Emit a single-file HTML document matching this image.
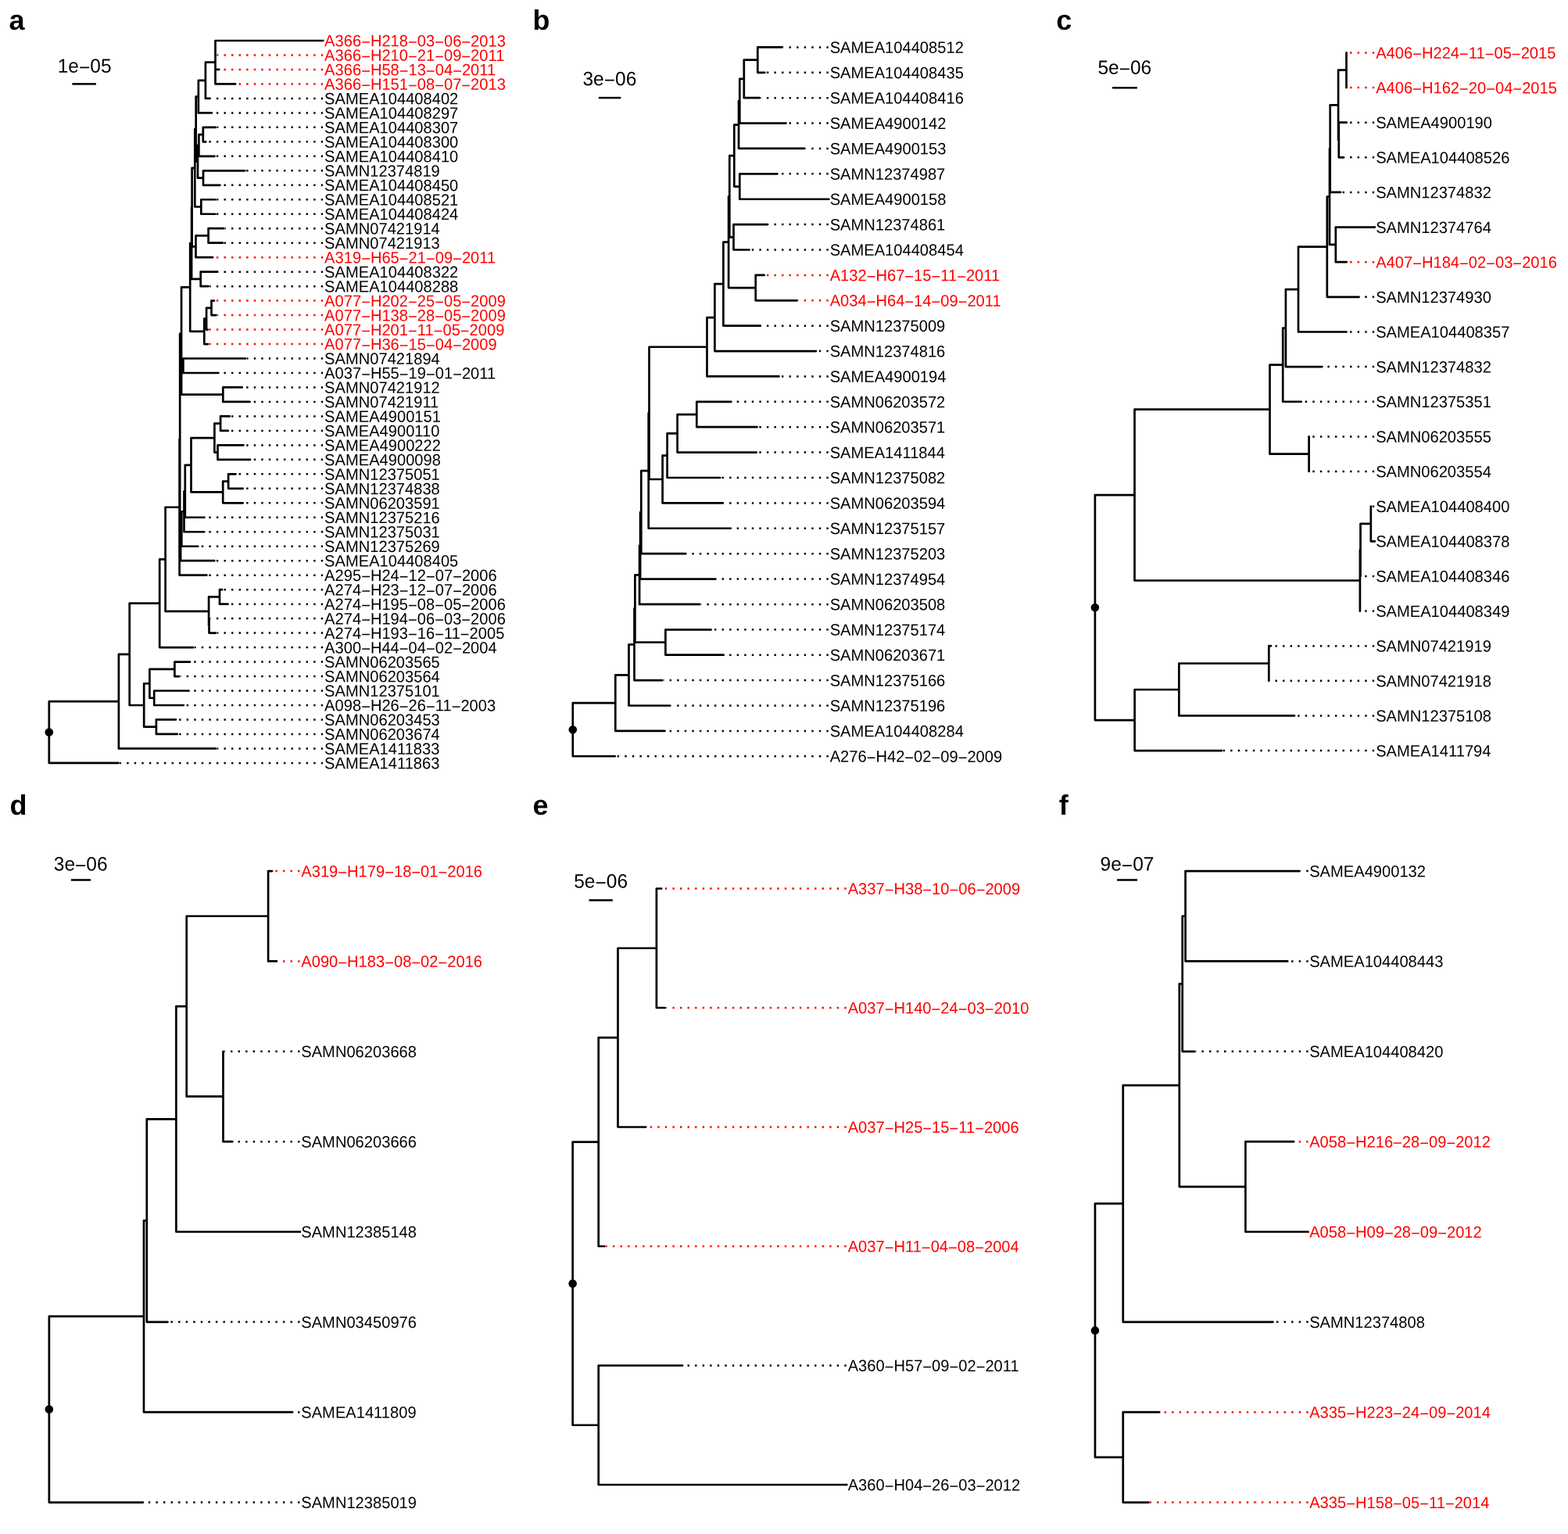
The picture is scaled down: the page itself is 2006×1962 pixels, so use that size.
<!DOCTYPE html>
<html lang="en">
<head>
<meta charset="utf-8">
<title>Phylogenetic trees a–f</title>
<style>
html,body{margin:0;padding:0;background:#fff;}
svg{display:block;}
text{font-family:"Liberation Sans",sans-serif;text-rendering:geometricPrecision;}
.t{font-size:20.14px;}
.s{font-size:24.5px;text-anchor:middle;}
.l{font-size:36px;font-weight:bold;}
.b{fill:none;stroke:#000;stroke-width:2.7;stroke-linecap:round;stroke-linejoin:round;}
.d{fill:none;stroke:#000;stroke-width:2.5;stroke-dasharray:2.39 7.17;}
.dr{fill:none;stroke:#f00;stroke-width:2.5;stroke-dasharray:2.39 7.17;}
.k{stroke:#000;stroke-width:2.5;}
.r{fill:#f00;}
</style>
</head>
<body>
<svg width="2006" height="1962" viewBox="0 0 2006 1962">
<rect width="2006" height="1962" fill="#fff"/>
<g id="panel-a">
<text class="l" transform="matrix(1 0.0005 0 1.0 11.4 38)">a</text>
<text class="s" transform="matrix(1 0.0005 0 1.022 108.15 92.75)">1e<tspan dy="1.92">−</tspan><tspan dy="-1.92">05</tspan></text>
<path class="k" d="M92.3 107.4H122.85"/>
<path class="b" d="M275.5 52V107.43M275.5 52H413.16M275.5 70.48H275.9M275.5 88.96H280.2M275.5 107.43H301.1M262.9 79.72V125.91M262.9 79.72H275.5M262.9 125.91H268.6M253.85 102.81V144.39M253.85 102.81H262.9M253.85 144.39H270.9M259.8 162.87V181.35M259.8 162.87H276M259.8 181.35H263.3M254.4 172.11V199.82M254.4 172.11H259.8M254.4 199.82H274.6M260 218.3V236.78M260 218.3H313.2M260 236.78H281.4M253 185.97V227.54M253 185.97H254.4M253 227.54H260M250.7 123.6V206.75M250.7 123.6H253.85M250.7 206.75H253M257.3 255.26V273.74M257.3 255.26H275.4M257.3 273.74H275.4M249.3 165.18V264.5M249.3 165.18H250.7M249.3 264.5H257.3M266.6 292.21V310.69M266.6 292.21H286.3M266.6 310.69H285.1M250.5 301.45V329.17M250.5 301.45H266.6M250.5 329.17H272.1M245.6 214.84V315.31M245.6 214.84H249.3M245.6 315.31H250.5M256.7 347.65V366.13M256.7 347.65H278.3M256.7 366.13H266.6M245.1 265.07V356.89M245.1 265.07H245.6M245.1 356.89H256.7M270.5 384.6V403.08M270.5 384.6H274M270.5 403.08H276.5M264.1 393.84V421.56M264.1 393.84H270.5M264.1 421.56H265.6M261.3 407.7V440.04M261.3 407.7H264.1M261.3 440.04H266M243.2 310.98V423.87M243.2 310.98H245.1M243.2 423.87H261.3M234.4 458.52V476.99M234.4 458.52H314.1M234.4 476.99H279.5M285.3 495.47V513.95M285.3 495.47H309.7M285.3 513.95H319.6M232.1 467.75V504.71M232.1 467.75H234.4M232.1 504.71H285.3M232.06 367.43V486.23M232.06 367.43H243.2M232.06 486.23H232.1M282.1 532.43V550.91M282.1 532.43H293.8M282.1 550.91H291.8M278.5 569.38V587.86M278.5 569.38H311.4M278.5 587.86H320.1M274.4 541.67V578.62M274.4 541.67H282.1M274.4 578.62H278.5M292.1 606.34V624.82M292.1 606.34H301.6M292.1 624.82H310.8M285.2 615.58V643.3M285.2 615.58H292.1M285.2 643.3H310.8M244.5 560.15V629.44M244.5 560.15H274.4M244.5 629.44H285.2M236.8 594.79V661.77M236.8 594.79H244.5M236.8 661.77H261.5M235.5 628.28V680.25M235.5 628.28H236.8M235.5 680.25H261.3M232.3 654.27V698.73M232.3 654.27H235.5M232.3 698.73H253.3M231.1 676.5V717.21M231.1 676.5H232.3M231.1 717.21H274.3M230.2 426.83V696.85M230.2 426.83H232.06M230.2 696.85H231.1M229.6 561.84V735.69M229.6 561.84H230.2M229.6 735.69H264.4M281 754.16V772.64M281 754.16H284M281 772.64H291.5M267.5 791.12V809.6M267.5 791.12H267.6M267.5 809.6H276.1M267.1 763.4V800.36M267.1 763.4H281M267.1 800.36H267.5M211.6 648.76V781.88M211.6 648.76H229.6M211.6 781.88H267.1M204.2 715.32V828.08M204.2 715.32H211.6M204.2 828.08H247.1M223.4 846.55V865.03M223.4 846.55H243M223.4 865.03H229.2M197.2 883.51V901.99M197.2 883.51H241.6M197.2 901.99H234.8M191.4 855.79V892.75M191.4 855.79H223.4M191.4 892.75H197.2M199.9 920.47V938.94M199.9 920.47H224.9M199.9 938.94H226.8M184.2 874.27V929.71M184.2 874.27H191.4M184.2 929.71H199.9M165.7 771.7V901.99M165.7 771.7H204.2M165.7 901.99H184.2M151.9 836.84V957.42M151.9 836.84H165.7M151.9 957.42H276.1M62.8 897.13V975.9M62.8 897.13H151.9M62.8 975.9H151.6"/>
<path class="d" d="M413.16 125.91H270.35M413.16 144.39H272.65M413.16 162.87H277.75M413.16 181.35H265.05M413.16 199.82H276.35M413.16 218.3H314.95M413.16 236.78H283.15M413.16 255.26H277.15M413.16 273.74H277.15M413.16 292.21H288.05M413.16 310.69H286.85M413.16 347.65H280.05M413.16 366.13H268.35M413.16 458.52H315.85M413.16 476.99H281.25M413.16 495.47H311.45M413.16 513.95H321.35M413.16 532.43H295.55M413.16 550.91H293.55M413.16 569.38H313.15M413.16 587.86H321.85M413.16 606.34H303.35M413.16 624.82H312.55M413.16 643.3H312.55M413.16 661.77H263.25M413.16 680.25H263.05M413.16 698.73H255.05M413.16 717.21H276.05M413.16 735.69H266.15M413.16 754.16H285.75M413.16 772.64H293.25M413.16 791.12H269.35M413.16 809.6H277.85M413.16 828.08H248.85M413.16 846.55H244.75M413.16 865.03H230.95M413.16 883.51H243.35M413.16 901.99H236.55M413.16 920.47H226.65M413.16 938.94H228.55M413.16 957.42H277.85M413.16 975.9H153.35"/>
<path class="dr" d="M413.16 52H414.91M413.16 70.48H277.65M413.16 88.96H281.95M413.16 107.43H302.85M413.16 329.17H273.85M413.16 384.6H275.75M413.16 403.08H278.25M413.16 421.56H267.35M413.16 440.04H267.75"/>
<circle cx="62.8" cy="936.52" r="5.3"/>
<g class="t">
<text class="r" transform="matrix(1 0.0005 0 1.03 415.11 59.3)">A366<tspan dy="1.56">−</tspan><tspan dy="-1.56">H218</tspan><tspan dy="1.56">−</tspan><tspan dy="-1.56">03</tspan><tspan dy="1.56">−</tspan><tspan dy="-1.56">06</tspan><tspan dy="1.56">−</tspan><tspan dy="-1.56">2013</tspan></text>
<text class="r" transform="matrix(1 0.0005 0 1.03 415.11 77.78)">A366<tspan dy="1.56">−</tspan><tspan dy="-1.56">H210</tspan><tspan dy="1.56">−</tspan><tspan dy="-1.56">21</tspan><tspan dy="1.56">−</tspan><tspan dy="-1.56">09</tspan><tspan dy="1.56">−</tspan><tspan dy="-1.56">2011</tspan></text>
<text class="r" transform="matrix(1 0.0005 0 1.03 415.11 96.26)">A366<tspan dy="1.56">−</tspan><tspan dy="-1.56">H58</tspan><tspan dy="1.56">−</tspan><tspan dy="-1.56">13</tspan><tspan dy="1.56">−</tspan><tspan dy="-1.56">04</tspan><tspan dy="1.56">−</tspan><tspan dy="-1.56">2011</tspan></text>
<text class="r" transform="matrix(1 0.0005 0 1.03 415.11 114.73)">A366<tspan dy="1.56">−</tspan><tspan dy="-1.56">H151</tspan><tspan dy="1.56">−</tspan><tspan dy="-1.56">08</tspan><tspan dy="1.56">−</tspan><tspan dy="-1.56">07</tspan><tspan dy="1.56">−</tspan><tspan dy="-1.56">2013</tspan></text>
<text transform="matrix(1 0.0005 0 1.03 415.11 133.21)">SAMEA104408402</text>
<text transform="matrix(1 0.0005 0 1.03 415.11 151.69)">SAMEA104408297</text>
<text transform="matrix(1 0.0005 0 1.03 415.11 170.17)">SAMEA104408307</text>
<text transform="matrix(1 0.0005 0 1.03 415.11 188.65)">SAMEA104408300</text>
<text transform="matrix(1 0.0005 0 1.03 415.11 207.12)">SAMEA104408410</text>
<text transform="matrix(1 0.0005 0 1.03 415.11 225.6)">SAMN12374819</text>
<text transform="matrix(1 0.0005 0 1.03 415.11 244.08)">SAMEA104408450</text>
<text transform="matrix(1 0.0005 0 1.03 415.11 262.56)">SAMEA104408521</text>
<text transform="matrix(1 0.0005 0 1.03 415.11 281.04)">SAMEA104408424</text>
<text transform="matrix(1 0.0005 0 1.03 415.11 299.51)">SAMN07421914</text>
<text transform="matrix(1 0.0005 0 1.03 415.11 317.99)">SAMN07421913</text>
<text class="r" transform="matrix(1 0.0005 0 1.03 415.11 336.47)">A319<tspan dy="1.56">−</tspan><tspan dy="-1.56">H65</tspan><tspan dy="1.56">−</tspan><tspan dy="-1.56">21</tspan><tspan dy="1.56">−</tspan><tspan dy="-1.56">09</tspan><tspan dy="1.56">−</tspan><tspan dy="-1.56">2011</tspan></text>
<text transform="matrix(1 0.0005 0 1.03 415.11 354.95)">SAMEA104408322</text>
<text transform="matrix(1 0.0005 0 1.03 415.11 373.43)">SAMEA104408288</text>
<text class="r" transform="matrix(1 0.0005 0 1.03 415.11 391.9)">A077<tspan dy="1.56">−</tspan><tspan dy="-1.56">H202</tspan><tspan dy="1.56">−</tspan><tspan dy="-1.56">25</tspan><tspan dy="1.56">−</tspan><tspan dy="-1.56">05</tspan><tspan dy="1.56">−</tspan><tspan dy="-1.56">2009</tspan></text>
<text class="r" transform="matrix(1 0.0005 0 1.03 415.11 410.38)">A077<tspan dy="1.56">−</tspan><tspan dy="-1.56">H138</tspan><tspan dy="1.56">−</tspan><tspan dy="-1.56">28</tspan><tspan dy="1.56">−</tspan><tspan dy="-1.56">05</tspan><tspan dy="1.56">−</tspan><tspan dy="-1.56">2009</tspan></text>
<text class="r" transform="matrix(1 0.0005 0 1.03 415.11 428.86)">A077<tspan dy="1.56">−</tspan><tspan dy="-1.56">H201</tspan><tspan dy="1.56">−</tspan><tspan dy="-1.56">11</tspan><tspan dy="1.56">−</tspan><tspan dy="-1.56">05</tspan><tspan dy="1.56">−</tspan><tspan dy="-1.56">2009</tspan></text>
<text class="r" transform="matrix(1 0.0005 0 1.03 415.11 447.34)">A077<tspan dy="1.56">−</tspan><tspan dy="-1.56">H36</tspan><tspan dy="1.56">−</tspan><tspan dy="-1.56">15</tspan><tspan dy="1.56">−</tspan><tspan dy="-1.56">04</tspan><tspan dy="1.56">−</tspan><tspan dy="-1.56">2009</tspan></text>
<text transform="matrix(1 0.0005 0 1.03 415.11 465.82)">SAMN07421894</text>
<text transform="matrix(1 0.0005 0 1.03 415.11 484.29)">A037<tspan dy="1.56">−</tspan><tspan dy="-1.56">H55</tspan><tspan dy="1.56">−</tspan><tspan dy="-1.56">19</tspan><tspan dy="1.56">−</tspan><tspan dy="-1.56">01</tspan><tspan dy="1.56">−</tspan><tspan dy="-1.56">2011</tspan></text>
<text transform="matrix(1 0.0005 0 1.03 415.11 502.77)">SAMN07421912</text>
<text transform="matrix(1 0.0005 0 1.03 415.11 521.25)">SAMN07421911</text>
<text transform="matrix(1 0.0005 0 1.03 415.11 539.73)">SAMEA4900151</text>
<text transform="matrix(1 0.0005 0 1.03 415.11 558.21)">SAMEA4900110</text>
<text transform="matrix(1 0.0005 0 1.03 415.11 576.68)">SAMEA4900222</text>
<text transform="matrix(1 0.0005 0 1.03 415.11 595.16)">SAMEA4900098</text>
<text transform="matrix(1 0.0005 0 1.03 415.11 613.64)">SAMN12375051</text>
<text transform="matrix(1 0.0005 0 1.03 415.11 632.12)">SAMN12374838</text>
<text transform="matrix(1 0.0005 0 1.03 415.11 650.6)">SAMN06203591</text>
<text transform="matrix(1 0.0005 0 1.03 415.11 669.07)">SAMN12375216</text>
<text transform="matrix(1 0.0005 0 1.03 415.11 687.55)">SAMN12375031</text>
<text transform="matrix(1 0.0005 0 1.03 415.11 706.03)">SAMN12375269</text>
<text transform="matrix(1 0.0005 0 1.03 415.11 724.51)">SAMEA104408405</text>
<text transform="matrix(1 0.0005 0 1.03 415.11 742.99)">A295<tspan dy="1.56">−</tspan><tspan dy="-1.56">H24</tspan><tspan dy="1.56">−</tspan><tspan dy="-1.56">12</tspan><tspan dy="1.56">−</tspan><tspan dy="-1.56">07</tspan><tspan dy="1.56">−</tspan><tspan dy="-1.56">2006</tspan></text>
<text transform="matrix(1 0.0005 0 1.03 415.11 761.46)">A274<tspan dy="1.56">−</tspan><tspan dy="-1.56">H23</tspan><tspan dy="1.56">−</tspan><tspan dy="-1.56">12</tspan><tspan dy="1.56">−</tspan><tspan dy="-1.56">07</tspan><tspan dy="1.56">−</tspan><tspan dy="-1.56">2006</tspan></text>
<text transform="matrix(1 0.0005 0 1.03 415.11 779.94)">A274<tspan dy="1.56">−</tspan><tspan dy="-1.56">H195</tspan><tspan dy="1.56">−</tspan><tspan dy="-1.56">08</tspan><tspan dy="1.56">−</tspan><tspan dy="-1.56">05</tspan><tspan dy="1.56">−</tspan><tspan dy="-1.56">2006</tspan></text>
<text transform="matrix(1 0.0005 0 1.03 415.11 798.42)">A274<tspan dy="1.56">−</tspan><tspan dy="-1.56">H194</tspan><tspan dy="1.56">−</tspan><tspan dy="-1.56">06</tspan><tspan dy="1.56">−</tspan><tspan dy="-1.56">03</tspan><tspan dy="1.56">−</tspan><tspan dy="-1.56">2006</tspan></text>
<text transform="matrix(1 0.0005 0 1.03 415.11 816.9)">A274<tspan dy="1.56">−</tspan><tspan dy="-1.56">H193</tspan><tspan dy="1.56">−</tspan><tspan dy="-1.56">16</tspan><tspan dy="1.56">−</tspan><tspan dy="-1.56">11</tspan><tspan dy="1.56">−</tspan><tspan dy="-1.56">2005</tspan></text>
<text transform="matrix(1 0.0005 0 1.03 415.11 835.38)">A300<tspan dy="1.56">−</tspan><tspan dy="-1.56">H44</tspan><tspan dy="1.56">−</tspan><tspan dy="-1.56">04</tspan><tspan dy="1.56">−</tspan><tspan dy="-1.56">02</tspan><tspan dy="1.56">−</tspan><tspan dy="-1.56">2004</tspan></text>
<text transform="matrix(1 0.0005 0 1.03 415.11 853.85)">SAMN06203565</text>
<text transform="matrix(1 0.0005 0 1.03 415.11 872.33)">SAMN06203564</text>
<text transform="matrix(1 0.0005 0 1.03 415.11 890.81)">SAMN12375101</text>
<text transform="matrix(1 0.0005 0 1.03 415.11 909.29)">A098<tspan dy="1.56">−</tspan><tspan dy="-1.56">H26</tspan><tspan dy="1.56">−</tspan><tspan dy="-1.56">26</tspan><tspan dy="1.56">−</tspan><tspan dy="-1.56">11</tspan><tspan dy="1.56">−</tspan><tspan dy="-1.56">2003</tspan></text>
<text transform="matrix(1 0.0005 0 1.03 415.11 927.77)">SAMN06203453</text>
<text transform="matrix(1 0.0005 0 1.03 415.11 946.24)">SAMN06203674</text>
<text transform="matrix(1 0.0005 0 1.03 415.11 964.72)">SAMEA1411833</text>
<text transform="matrix(1 0.0005 0 1.03 415.11 983.2)">SAMEA1411863</text>
</g>
</g>
<g id="panel-b">
<text class="l" transform="matrix(1 0.0005 0 1.0 681.4 38)">b</text>
<text class="s" transform="matrix(1 0.0005 0 1.022 779.9 109.15)">3e<tspan dy="1.92">−</tspan><tspan dy="-1.92">06</tspan></text>
<path class="k" d="M765.8 125.1H794.3"/>
<path class="b" d="M969.3 60.4V92.79M969.3 60.4H1000.6M969.3 92.79H978.4M951.8 76.59V125.18M951.8 76.59H969.3M951.8 125.18H971.6M946.3 100.88V157.56M946.3 100.88H951.8M946.3 157.56H1005.5M945.05 129.22V189.95M945.05 129.22H946.3M945.05 189.95H1028.9M946.3 222.34V254.73M946.3 222.34H994.4M946.3 254.73H1059.8M939.3 159.59V238.53M939.3 159.59H945.05M939.3 238.53H946.3M938.5 287.12V319.5M938.5 287.12H982.1M938.5 319.5H958.6M933.3 199.06V303.31M933.3 199.06H939.3M933.3 303.31H938.5M966.7 351.89V384.28M966.7 351.89H977.8M966.7 384.28H1019.6M932.1 251.19V368.09M932.1 251.19H933.3M932.1 368.09H966.7M925.4 309.64V416.67M925.4 309.64H932.1M925.4 416.67H972.8M914.4 363.15V449.06M914.4 363.15H925.4M914.4 449.06H1044M904.5 406.1V481.44M904.5 406.1H914.4M904.5 481.44H996.5M891.3 513.83V546.22M891.3 513.83H935.4M891.3 546.22H968.5M866.6 530.03V578.61M866.6 530.03H891.3M866.6 578.61H967.8M853.6 554.32V611M853.6 554.32H866.6M853.6 611H921.2M847.6 582.66V643.38M847.6 582.66H853.6M847.6 643.38H924.8M830.5 443.77V613.02M830.5 443.77H904.5M830.5 613.02H847.6M829.7 528.4V675.77M829.7 528.4H830.5M829.7 675.77H934.8M820.3 602.08V708.16M820.3 602.08H829.7M820.3 708.16H877.3M819.1 655.12V740.55M819.1 655.12H820.3M819.1 740.55H915.4M818.1 697.84V772.94M818.1 697.84H819.1M818.1 772.94H895M851.4 805.32V837.71M851.4 805.32H909.6M851.4 837.71H925.7M812.4 735.39V821.52M812.4 735.39H818.1M812.4 821.52H851.4M811.5 778.45V870.1M811.5 778.45H812.4M811.5 870.1H846.9M804.5 824.28V902.49M804.5 824.28H811.5M804.5 902.49H857M787.3 863.38V934.88M787.3 863.38H804.5M787.3 934.88H850.5M732.8 899.13V967.26M732.8 899.13H787.3M732.8 967.26H786.8"/>
<path class="d" d="M1059.8 60.4H1002.24M1059.8 92.79H980.03M1059.8 125.18H973.24M1059.8 157.56H1007.13M1059.8 189.95H1030.54M1059.8 222.34H996.03M1059.8 254.73H1061.43M1059.8 287.12H983.74M1059.8 319.5H960.24M1059.8 416.67H974.43M1059.8 449.06H1045.63M1059.8 481.44H998.13M1059.8 513.83H937.03M1059.8 546.22H970.13M1059.8 578.61H969.43M1059.8 611H922.84M1059.8 643.38H926.43M1059.8 675.77H936.43M1059.8 708.16H878.93M1059.8 740.55H917.03M1059.8 772.94H896.63M1059.8 805.32H911.24M1059.8 837.71H927.34M1059.8 870.1H848.53M1059.8 902.49H858.63M1059.8 934.88H852.13M1059.8 967.26H788.43"/>
<path class="dr" d="M1059.8 351.89H979.43M1059.8 384.28H1021.24"/>
<circle cx="732.8" cy="933.2" r="5.3"/>
<g class="t">
<text transform="matrix(1 0.0005 0 1.03 1061.63 67.7)">SAMEA104408512</text>
<text transform="matrix(1 0.0005 0 1.03 1061.63 100.09)">SAMEA104408435</text>
<text transform="matrix(1 0.0005 0 1.03 1061.63 132.48)">SAMEA104408416</text>
<text transform="matrix(1 0.0005 0 1.03 1061.63 164.86)">SAMEA4900142</text>
<text transform="matrix(1 0.0005 0 1.03 1061.63 197.25)">SAMEA4900153</text>
<text transform="matrix(1 0.0005 0 1.03 1061.63 229.64)">SAMN12374987</text>
<text transform="matrix(1 0.0005 0 1.03 1061.63 262.03)">SAMEA4900158</text>
<text transform="matrix(1 0.0005 0 1.03 1061.63 294.42)">SAMN12374861</text>
<text transform="matrix(1 0.0005 0 1.03 1061.63 326.8)">SAMEA104408454</text>
<text class="r" transform="matrix(1 0.0005 0 1.03 1061.63 359.19)">A132<tspan dy="1.56">−</tspan><tspan dy="-1.56">H67</tspan><tspan dy="1.56">−</tspan><tspan dy="-1.56">15</tspan><tspan dy="1.56">−</tspan><tspan dy="-1.56">11</tspan><tspan dy="1.56">−</tspan><tspan dy="-1.56">2011</tspan></text>
<text class="r" transform="matrix(1 0.0005 0 1.03 1061.63 391.58)">A034<tspan dy="1.56">−</tspan><tspan dy="-1.56">H64</tspan><tspan dy="1.56">−</tspan><tspan dy="-1.56">14</tspan><tspan dy="1.56">−</tspan><tspan dy="-1.56">09</tspan><tspan dy="1.56">−</tspan><tspan dy="-1.56">2011</tspan></text>
<text transform="matrix(1 0.0005 0 1.03 1061.63 423.97)">SAMN12375009</text>
<text transform="matrix(1 0.0005 0 1.03 1061.63 456.36)">SAMN12374816</text>
<text transform="matrix(1 0.0005 0 1.03 1061.63 488.74)">SAMEA4900194</text>
<text transform="matrix(1 0.0005 0 1.03 1061.63 521.13)">SAMN06203572</text>
<text transform="matrix(1 0.0005 0 1.03 1061.63 553.52)">SAMN06203571</text>
<text transform="matrix(1 0.0005 0 1.03 1061.63 585.91)">SAMEA1411844</text>
<text transform="matrix(1 0.0005 0 1.03 1061.63 618.3)">SAMN12375082</text>
<text transform="matrix(1 0.0005 0 1.03 1061.63 650.68)">SAMN06203594</text>
<text transform="matrix(1 0.0005 0 1.03 1061.63 683.07)">SAMN12375157</text>
<text transform="matrix(1 0.0005 0 1.03 1061.63 715.46)">SAMN12375203</text>
<text transform="matrix(1 0.0005 0 1.03 1061.63 747.85)">SAMN12374954</text>
<text transform="matrix(1 0.0005 0 1.03 1061.63 780.24)">SAMN06203508</text>
<text transform="matrix(1 0.0005 0 1.03 1061.63 812.62)">SAMN12375174</text>
<text transform="matrix(1 0.0005 0 1.03 1061.63 845.01)">SAMN06203671</text>
<text transform="matrix(1 0.0005 0 1.03 1061.63 877.4)">SAMN12375166</text>
<text transform="matrix(1 0.0005 0 1.03 1061.63 909.79)">SAMN12375196</text>
<text transform="matrix(1 0.0005 0 1.03 1061.63 942.18)">SAMEA104408284</text>
<text transform="matrix(1 0.0005 0 1.03 1061.63 974.56)">A276<tspan dy="1.56">−</tspan><tspan dy="-1.56">H42</tspan><tspan dy="1.56">−</tspan><tspan dy="-1.56">02</tspan><tspan dy="1.56">−</tspan><tspan dy="-1.56">09</tspan><tspan dy="1.56">−</tspan><tspan dy="-1.56">2009</tspan></text>
</g>
</g>
<g id="panel-c">
<text class="l" transform="matrix(1 0.0005 0 1.0 1351.3 38)">c</text>
<text class="s" transform="matrix(1 0.0005 0 1.022 1438.8 94.75)">5e<tspan dy="1.92">−</tspan><tspan dy="-1.92">06</tspan></text>
<path class="k" d="M1423 112.3H1454.8"/>
<path class="b" d="M1722.5 67.4V112.03M1712.8 156.67V201.31M1712.8 156.67H1722.7M1712.8 201.31H1719.1M1712.1 89.72V178.99M1712.1 89.72H1722.5M1712.1 178.99H1712.8M1701.7 134.35V245.94M1701.7 134.35H1712.1M1701.7 245.94H1715M1708.8 290.57V335.21M1708.8 290.57H1758.16M1708.8 335.21H1722.7M1701 190.15V312.89M1701 190.15H1701.7M1701 312.89H1708.8M1697.8 251.52V379.85M1697.8 251.52H1701M1697.8 379.85H1738.6M1661 315.68V424.48M1661 315.68H1697.8M1661 424.48H1722.7M1644.9 370.08V469.12M1644.9 370.08H1661M1644.9 469.12H1691.4M1641.2 419.6V513.75M1641.2 419.6H1644.9M1641.2 513.75H1664.8M1674.6 558.38V603.02M1624.5 466.67V580.7M1624.5 466.67H1641.2M1624.5 580.7H1674.6M1753.8 647.65V692.29M1753.8 692.29H1758.16M1740.5 669.97V736.92M1740.5 669.97H1753.8M1739.9 703.45V781.56M1739.9 703.45H1740.5M1451.5 523.69V742.5M1451.5 523.69H1624.5M1451.5 742.5H1739.9M1623.3 826.19V870.83M1623.3 826.19H1626M1508.35 848.51V915.46M1508.35 848.51H1623.3M1508.35 915.46H1656M1451.6 881.99V960.1M1451.6 881.99H1508.35M1451.6 960.1H1563.2M1400.9 633.1V921.04M1400.9 633.1H1451.5M1400.9 921.04H1451.6"/>
<path class="d" d="M1758.16 156.67H1724.49M1758.16 201.31H1720.89M1758.16 245.94H1716.79M1758.16 290.57H1759.95M1758.16 379.85H1740.39M1758.16 424.48H1724.49M1758.16 469.12H1693.19M1758.16 513.75H1666.59M1758.16 558.38H1676.39M1758.16 603.02H1676.39M1758.16 647.65H1755.59M1758.16 692.29H1759.95M1758.16 736.92H1742.29M1758.16 781.56H1741.69M1758.16 826.19H1627.79M1758.16 870.83H1625.09M1758.16 915.46H1657.79M1758.16 960.1H1564.99"/>
<path class="dr" d="M1758.16 67.4H1724.29M1758.16 112.03H1724.29M1758.16 335.21H1724.49"/>
<circle cx="1400.9" cy="777.07" r="5.3"/>
<g class="t">
<text class="r" transform="matrix(1 0.0005 0 1.03 1760.15 74.7)">A406<tspan dy="1.56">−</tspan><tspan dy="-1.56">H224</tspan><tspan dy="1.56">−</tspan><tspan dy="-1.56">11</tspan><tspan dy="1.56">−</tspan><tspan dy="-1.56">05</tspan><tspan dy="1.56">−</tspan><tspan dy="-1.56">2015</tspan></text>
<text class="r" transform="matrix(1 0.0005 0 1.03 1760.15 119.33)">A406<tspan dy="1.56">−</tspan><tspan dy="-1.56">H162</tspan><tspan dy="1.56">−</tspan><tspan dy="-1.56">20</tspan><tspan dy="1.56">−</tspan><tspan dy="-1.56">04</tspan><tspan dy="1.56">−</tspan><tspan dy="-1.56">2015</tspan></text>
<text transform="matrix(1 0.0005 0 1.03 1760.15 163.97)">SAMEA4900190</text>
<text transform="matrix(1 0.0005 0 1.03 1760.15 208.61)">SAMEA104408526</text>
<text transform="matrix(1 0.0005 0 1.03 1760.15 253.24)">SAMN12374832</text>
<text transform="matrix(1 0.0005 0 1.03 1760.15 297.88)">SAMN12374764</text>
<text class="r" transform="matrix(1 0.0005 0 1.03 1760.15 342.51)">A407<tspan dy="1.56">−</tspan><tspan dy="-1.56">H184</tspan><tspan dy="1.56">−</tspan><tspan dy="-1.56">02</tspan><tspan dy="1.56">−</tspan><tspan dy="-1.56">03</tspan><tspan dy="1.56">−</tspan><tspan dy="-1.56">2016</tspan></text>
<text transform="matrix(1 0.0005 0 1.03 1760.15 387.15)">SAMN12374930</text>
<text transform="matrix(1 0.0005 0 1.03 1760.15 431.78)">SAMEA104408357</text>
<text transform="matrix(1 0.0005 0 1.03 1760.15 476.42)">SAMN12374832</text>
<text transform="matrix(1 0.0005 0 1.03 1760.15 521.05)">SAMN12375351</text>
<text transform="matrix(1 0.0005 0 1.03 1760.15 565.68)">SAMN06203555</text>
<text transform="matrix(1 0.0005 0 1.03 1760.15 610.32)">SAMN06203554</text>
<text transform="matrix(1 0.0005 0 1.03 1760.15 654.95)">SAMEA104408400</text>
<text transform="matrix(1 0.0005 0 1.03 1760.15 699.59)">SAMEA104408378</text>
<text transform="matrix(1 0.0005 0 1.03 1760.15 744.22)">SAMEA104408346</text>
<text transform="matrix(1 0.0005 0 1.03 1760.15 788.86)">SAMEA104408349</text>
<text transform="matrix(1 0.0005 0 1.03 1760.15 833.49)">SAMN07421919</text>
<text transform="matrix(1 0.0005 0 1.03 1760.15 878.13)">SAMN07421918</text>
<text transform="matrix(1 0.0005 0 1.03 1760.15 922.76)">SAMN12375108</text>
<text transform="matrix(1 0.0005 0 1.03 1760.15 967.4)">SAMEA1411794</text>
</g>
</g>
<g id="panel-d">
<text class="l" transform="matrix(1 0.0005 0 1.0 12.4 1041.9)">d</text>
<text class="s" transform="matrix(1 0.0005 0 1.022 103.2 1113.45)">3e<tspan dy="1.92">−</tspan><tspan dy="-1.92">06</tspan></text>
<path class="k" d="M90.9 1125.5H116.1"/>
<path class="b" d="M343.1 1114.1V1229.45M343.1 1114.1H348.1M343.1 1229.45H354M285.5 1344.8V1460.15M285.5 1460.15H297.4M238.7 1171.77V1402.47M238.7 1171.77H343.1M238.7 1402.47H285.5M225.4 1287.12V1575.5M225.4 1287.12H238.7M225.4 1575.5H383.47M187.8 1431.31V1690.85M187.8 1431.31H225.4M187.8 1690.85H214.5M184 1561.08V1806.2M184 1561.08H187.8M184 1806.2H374.1M62.85 1683.64V1921.55M62.85 1683.64H184M62.85 1921.55H183"/>
<path class="d" d="M383.47 1344.8H287.1M383.47 1460.15H299M383.47 1575.5H385.07M383.47 1690.85H216.1M383.47 1806.2H375.7M383.47 1921.55H184.6"/>
<path class="dr" d="M383.47 1114.1H349.7M383.47 1229.45H355.6"/>
<circle cx="62.85" cy="1802.6" r="5.3"/>
<g class="t">
<text class="r" transform="matrix(1 0.0005 0 1.03 385.27 1121.4)">A319<tspan dy="1.56">−</tspan><tspan dy="-1.56">H179</tspan><tspan dy="1.56">−</tspan><tspan dy="-1.56">18</tspan><tspan dy="1.56">−</tspan><tspan dy="-1.56">01</tspan><tspan dy="1.56">−</tspan><tspan dy="-1.56">2016</tspan></text>
<text class="r" transform="matrix(1 0.0005 0 1.03 385.27 1236.75)">A090<tspan dy="1.56">−</tspan><tspan dy="-1.56">H183</tspan><tspan dy="1.56">−</tspan><tspan dy="-1.56">08</tspan><tspan dy="1.56">−</tspan><tspan dy="-1.56">02</tspan><tspan dy="1.56">−</tspan><tspan dy="-1.56">2016</tspan></text>
<text transform="matrix(1 0.0005 0 1.03 385.27 1352.1)">SAMN06203668</text>
<text transform="matrix(1 0.0005 0 1.03 385.27 1467.45)">SAMN06203666</text>
<text transform="matrix(1 0.0005 0 1.03 385.27 1582.8)">SAMN12385148</text>
<text transform="matrix(1 0.0005 0 1.03 385.27 1698.15)">SAMN03450976</text>
<text transform="matrix(1 0.0005 0 1.03 385.27 1813.5)">SAMEA1411809</text>
<text transform="matrix(1 0.0005 0 1.03 385.27 1928.85)">SAMN12385019</text>
</g>
</g>
<g id="panel-e">
<text class="l" transform="matrix(1 0.0005 0 1.0 681.4 1041.9)">e</text>
<text class="s" transform="matrix(1 0.0005 0 1.022 768.6 1135.55)">5e<tspan dy="1.92">−</tspan><tspan dy="-1.92">06</tspan></text>
<path class="k" d="M753.5 1151.4H783.8"/>
<path class="b" d="M839.9 1136.5V1289M839.9 1136.5H846.2M839.9 1289H851M790.5 1212.75V1441.5M790.5 1212.75H839.9M790.5 1441.5H826.3M765.7 1327.12V1594M765.7 1327.12H790.5M765.7 1594H773.4M765.7 1746.5V1899M765.7 1746.5H873.1M765.7 1899H1082.7M732.65 1460.56V1822.75M732.65 1460.56H765.7M732.65 1822.75H765.7"/>
<path class="d" d="M1082.7 1746.5H874.85M1082.7 1899H1084.45"/>
<path class="dr" d="M1082.7 1136.5H847.95M1082.7 1289H852.75M1082.7 1441.5H828.05M1082.7 1594H775.15"/>
<circle cx="732.65" cy="1641.66" r="5.3"/>
<g class="t">
<text class="r" transform="matrix(1 0.0005 0 1.03 1084.65 1143.8)">A337<tspan dy="1.56">−</tspan><tspan dy="-1.56">H38</tspan><tspan dy="1.56">−</tspan><tspan dy="-1.56">10</tspan><tspan dy="1.56">−</tspan><tspan dy="-1.56">06</tspan><tspan dy="1.56">−</tspan><tspan dy="-1.56">2009</tspan></text>
<text class="r" transform="matrix(1 0.0005 0 1.03 1084.65 1296.3)">A037<tspan dy="1.56">−</tspan><tspan dy="-1.56">H140</tspan><tspan dy="1.56">−</tspan><tspan dy="-1.56">24</tspan><tspan dy="1.56">−</tspan><tspan dy="-1.56">03</tspan><tspan dy="1.56">−</tspan><tspan dy="-1.56">2010</tspan></text>
<text class="r" transform="matrix(1 0.0005 0 1.03 1084.65 1448.8)">A037<tspan dy="1.56">−</tspan><tspan dy="-1.56">H25</tspan><tspan dy="1.56">−</tspan><tspan dy="-1.56">15</tspan><tspan dy="1.56">−</tspan><tspan dy="-1.56">11</tspan><tspan dy="1.56">−</tspan><tspan dy="-1.56">2006</tspan></text>
<text class="r" transform="matrix(1 0.0005 0 1.03 1084.65 1601.3)">A037<tspan dy="1.56">−</tspan><tspan dy="-1.56">H11</tspan><tspan dy="1.56">−</tspan><tspan dy="-1.56">04</tspan><tspan dy="1.56">−</tspan><tspan dy="-1.56">08</tspan><tspan dy="1.56">−</tspan><tspan dy="-1.56">2004</tspan></text>
<text transform="matrix(1 0.0005 0 1.03 1084.65 1753.8)">A360<tspan dy="1.56">−</tspan><tspan dy="-1.56">H57</tspan><tspan dy="1.56">−</tspan><tspan dy="-1.56">09</tspan><tspan dy="1.56">−</tspan><tspan dy="-1.56">02</tspan><tspan dy="1.56">−</tspan><tspan dy="-1.56">2011</tspan></text>
<text transform="matrix(1 0.0005 0 1.03 1084.65 1906.3)">A360<tspan dy="1.56">−</tspan><tspan dy="-1.56">H04</tspan><tspan dy="1.56">−</tspan><tspan dy="-1.56">26</tspan><tspan dy="1.56">−</tspan><tspan dy="-1.56">03</tspan><tspan dy="1.56">−</tspan><tspan dy="-1.56">2012</tspan></text>
</g>
</g>
<g id="panel-f">
<text class="l" transform="matrix(1 0.0005 0 1.0 1354.8 1041.9)">f</text>
<text class="s" transform="matrix(1 0.0005 0 1.022 1442 1113.45)">9e<tspan dy="1.92">−</tspan><tspan dy="-1.92">07</tspan></text>
<path class="k" d="M1429.1 1125.5H1455"/>
<path class="b" d="M1516.55 1114.1V1229.45M1516.55 1114.1H1662.6M1516.55 1229.45H1647.2M1512.7 1171.77V1344.8M1512.7 1171.77H1516.55M1512.7 1344.8H1528.1M1593.4 1460.15V1575.5M1593.4 1460.15H1655.2M1593.4 1575.5H1673.63M1508.8 1258.29V1517.82M1508.8 1258.29H1512.7M1508.8 1517.82H1593.4M1436.75 1388.06V1690.85M1436.75 1388.06H1508.8M1436.75 1690.85H1628.5M1436.75 1806.2V1921.55M1436.75 1806.2H1483.2M1436.75 1921.55H1469.6M1400.95 1539.45V1863.87M1400.95 1539.45H1436.75M1400.95 1863.87H1436.75"/>
<path class="d" d="M1673.63 1114.1H1663.96M1673.63 1229.45H1648.56M1673.63 1344.8H1529.46M1673.63 1690.85H1629.86"/>
<path class="dr" d="M1673.63 1460.15H1656.56M1673.63 1575.5H1674.99M1673.63 1806.2H1484.56M1673.63 1921.55H1470.96"/>
<circle cx="1400.95" cy="1701.66" r="5.3"/>
<g class="t">
<text transform="matrix(1 0.0005 0 1.03 1675.19 1121.4)">SAMEA4900132</text>
<text transform="matrix(1 0.0005 0 1.03 1675.19 1236.75)">SAMEA104408443</text>
<text transform="matrix(1 0.0005 0 1.03 1675.19 1352.1)">SAMEA104408420</text>
<text class="r" transform="matrix(1 0.0005 0 1.03 1675.19 1467.45)">A058<tspan dy="1.56">−</tspan><tspan dy="-1.56">H216</tspan><tspan dy="1.56">−</tspan><tspan dy="-1.56">28</tspan><tspan dy="1.56">−</tspan><tspan dy="-1.56">09</tspan><tspan dy="1.56">−</tspan><tspan dy="-1.56">2012</tspan></text>
<text class="r" transform="matrix(1 0.0005 0 1.03 1675.19 1582.8)">A058<tspan dy="1.56">−</tspan><tspan dy="-1.56">H09</tspan><tspan dy="1.56">−</tspan><tspan dy="-1.56">28</tspan><tspan dy="1.56">−</tspan><tspan dy="-1.56">09</tspan><tspan dy="1.56">−</tspan><tspan dy="-1.56">2012</tspan></text>
<text transform="matrix(1 0.0005 0 1.03 1675.19 1698.15)">SAMN12374808</text>
<text class="r" transform="matrix(1 0.0005 0 1.03 1675.19 1813.5)">A335<tspan dy="1.56">−</tspan><tspan dy="-1.56">H223</tspan><tspan dy="1.56">−</tspan><tspan dy="-1.56">24</tspan><tspan dy="1.56">−</tspan><tspan dy="-1.56">09</tspan><tspan dy="1.56">−</tspan><tspan dy="-1.56">2014</tspan></text>
<text class="r" transform="matrix(1 0.0005 0 1.03 1675.19 1928.85)">A335<tspan dy="1.56">−</tspan><tspan dy="-1.56">H158</tspan><tspan dy="1.56">−</tspan><tspan dy="-1.56">05</tspan><tspan dy="1.56">−</tspan><tspan dy="-1.56">11</tspan><tspan dy="1.56">−</tspan><tspan dy="-1.56">2014</tspan></text>
</g>
</g>
</svg>
</body>
</html>
